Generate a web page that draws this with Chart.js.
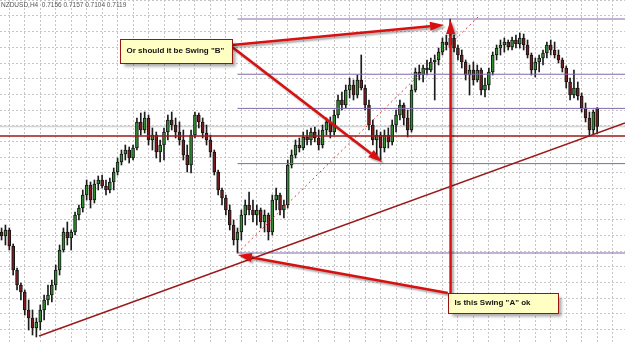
<!DOCTYPE html>
<html>
<head>
<meta charset="utf-8">
<script src="https://cdn.jsdelivr.net/npm/chart.js@4.4.1/dist/chart.umd.min.js"></script>
<style>
  html, body { margin: 0; padding: 0; background: #ffffff; }
  #chart { display: block; }
</style>
</head>
<body>
<canvas id="chart" width="625" height="342"></canvas>
<script>
let symbol = "NZDUSD,H4";

// H4 candles, oldest first
let opens = [
  0.6908,0.6900,0.6912,0.6880,0.6832,0.6802,0.6788,0.6752,0.6736,0.6716,
  0.6728,0.6752,0.6772,0.6782,0.6802,0.6832,0.6872,0.6908,0.6896,0.6908,
  0.6942,0.6956,0.6982,0.7002,0.6972,0.7004,0.7012,0.7000,0.6992,0.7008,
  0.7028,0.7048,0.7064,0.7072,0.7056,0.7076,0.7128,0.7112,0.7136,0.7092,
  0.7102,0.7068,0.7082,0.7108,0.7132,0.7122,0.7108,0.7092,0.7062,0.7042,
  0.7102,0.7142,0.7128,0.7106,0.7092,0.7068,0.7028,0.6992,0.6976,0.6952,
  0.6922,0.6892,0.6908,0.6942,0.6962,0.6952,0.6942,0.6952,0.6928,0.6942,
  0.6908,0.6972,0.6982,0.6952,0.6962,0.7042,0.7062,0.7082,0.7076,0.7098,
  0.7092,0.7108,0.7096,0.7082,0.7112,0.7128,0.7108,0.7142,0.7172,0.7162,
  0.7192,0.7202,0.7182,0.7212,0.7196,0.7162,0.7122,0.7092,0.7102,0.7076,
  0.7102,0.7088,0.7122,0.7142,0.7162,0.7136,0.7112,0.7192,0.7228,0.7222,
  0.7236,0.7232,0.7248,0.7252,0.7268,0.7288,0.7282,0.7296,0.7276,0.7262,
  0.7248,0.7222,0.7232,0.7212,0.7232,0.7192,0.7202,0.7228,0.7262,0.7276,
  0.7282,0.7288,0.7278,0.7292,0.7284,0.7296,0.7282,0.7262,0.7232,0.7248,
  0.7256,0.7266,0.7282,0.7272,0.7262,0.7252,0.7236,0.7208,0.7182,0.7196,
  0.7180,0.7156,0.7136,0.7112,0.7156
];
let highs = [
  0.6916,0.6922,0.6916,0.6884,0.6836,0.6806,0.6792,0.6772,0.6752,0.6736,
  0.6762,0.6782,0.6802,0.6812,0.6842,0.6882,0.6916,0.6928,0.6912,0.6948,
  0.6962,0.6992,0.7012,0.7008,0.7012,0.7020,0.7022,0.7012,0.7016,0.7036,
  0.7056,0.7072,0.7082,0.7078,0.7082,0.7136,0.7146,0.7148,0.7142,0.7116,
  0.7108,0.7092,0.7116,0.7142,0.7148,0.7136,0.7128,0.7112,0.7082,0.7112,
  0.7148,0.7146,0.7136,0.7122,0.7102,0.7072,0.7032,0.6996,0.6982,0.6962,
  0.6932,0.6916,0.6952,0.6972,0.6988,0.6972,0.6962,0.6956,0.6952,0.6946,
  0.6982,0.6996,0.6986,0.6972,0.7052,0.7072,0.7092,0.7096,0.7108,0.7112,
  0.7116,0.7118,0.7112,0.7122,0.7136,0.7138,0.7152,0.7182,0.7188,0.7202,
  0.7216,0.7212,0.7222,0.7262,0.7202,0.7172,0.7132,0.7112,0.7108,0.7112,
  0.7116,0.7132,0.7152,0.7172,0.7166,0.7152,0.7202,0.7236,0.7242,0.7242,
  0.7252,0.7256,0.7262,0.7276,0.7296,0.7302,0.7334,0.7302,0.7282,0.7272,
  0.7252,0.7242,0.7248,0.7242,0.7236,0.7216,0.7236,0.7268,0.7282,0.7292,
  0.7296,0.7292,0.7298,0.7302,0.7306,0.7304,0.7292,0.7266,0.7256,0.7262,
  0.7272,0.7288,0.7292,0.7288,0.7272,0.7256,0.7240,0.7216,0.7232,0.7208,
  0.7186,0.7166,0.7148,0.7152,0.7157
];
let lows = [
  0.6892,0.6882,0.6872,0.6822,0.6792,0.6772,0.6742,0.6712,0.6702,0.6698,
  0.6712,0.6732,0.6762,0.6768,0.6792,0.6822,0.6868,0.6882,0.6872,0.6902,
  0.6932,0.6948,0.6972,0.6956,0.6966,0.6992,0.6996,0.6982,0.6986,0.6992,
  0.7022,0.7042,0.7052,0.7046,0.7052,0.7072,0.7102,0.7106,0.7082,0.7072,
  0.7056,0.7048,0.7052,0.7092,0.7112,0.7096,0.7082,0.7052,0.7028,0.7026,
  0.7096,0.7116,0.7096,0.7082,0.7058,0.7022,0.6982,0.6962,0.6942,0.6912,
  0.6882,0.6866,0.6892,0.6922,0.6942,0.6928,0.6922,0.6916,0.6908,0.6892,
  0.6902,0.6952,0.6942,0.6936,0.6956,0.7036,0.7056,0.7068,0.7072,0.7082,
  0.7082,0.7088,0.7072,0.7076,0.7102,0.7096,0.7102,0.7136,0.7152,0.7156,
  0.7176,0.7172,0.7176,0.7192,0.7152,0.7112,0.7082,0.7062,0.7052,0.7068,
  0.7076,0.7082,0.7108,0.7132,0.7122,0.7098,0.7108,0.7188,0.7212,0.7208,
  0.7222,0.7228,0.7172,0.7242,0.7262,0.7272,0.7276,0.7268,0.7252,0.7236,
  0.7212,0.7182,0.7202,0.7208,0.7182,0.7178,0.7192,0.7222,0.7252,0.7262,
  0.7268,0.7272,0.7272,0.7276,0.7276,0.7272,0.7256,0.7222,0.7218,0.7228,
  0.7242,0.7256,0.7262,0.7256,0.7246,0.7228,0.7196,0.7172,0.7176,0.7172,
  0.7148,0.7128,0.7100,0.7104,0.7104
];
let closes = [
  0.6900,0.6912,0.6880,0.6832,0.6802,0.6788,0.6752,0.6736,0.6716,0.6728,
  0.6752,0.6772,0.6782,0.6802,0.6832,0.6872,0.6908,0.6896,0.6908,0.6942,
  0.6956,0.6982,0.7002,0.6972,0.7004,0.7012,0.7000,0.6992,0.7008,0.7028,
  0.7048,0.7064,0.7072,0.7056,0.7076,0.7128,0.7112,0.7136,0.7092,0.7102,
  0.7068,0.7082,0.7108,0.7132,0.7122,0.7108,0.7092,0.7062,0.7042,0.7102,
  0.7142,0.7128,0.7106,0.7092,0.7068,0.7028,0.6992,0.6976,0.6952,0.6922,
  0.6892,0.6908,0.6942,0.6962,0.6952,0.6942,0.6952,0.6928,0.6942,0.6908,
  0.6972,0.6982,0.6952,0.6962,0.7042,0.7062,0.7082,0.7076,0.7098,0.7092,
  0.7108,0.7096,0.7082,0.7112,0.7128,0.7108,0.7142,0.7172,0.7162,0.7192,
  0.7202,0.7182,0.7212,0.7196,0.7162,0.7122,0.7092,0.7102,0.7076,0.7102,
  0.7088,0.7122,0.7142,0.7162,0.7136,0.7112,0.7192,0.7228,0.7222,0.7236,
  0.7232,0.7248,0.7252,0.7268,0.7288,0.7282,0.7296,0.7276,0.7262,0.7248,
  0.7222,0.7232,0.7212,0.7232,0.7192,0.7202,0.7228,0.7262,0.7276,0.7282,
  0.7288,0.7278,0.7292,0.7284,0.7296,0.7282,0.7262,0.7232,0.7248,0.7256,
  0.7266,0.7282,0.7272,0.7262,0.7252,0.7236,0.7208,0.7182,0.7196,0.7180,
  0.7156,0.7136,0.7112,0.7148,0.7119
];

// drawn objects
let swingLowIdx = 61;
let swingHighIdx = 116;
let fibRatios = [0, 0.236, 0.382, 0.618, 1];
let roundLevel = 0.7100;
let trendAnchors = [9, 152];              // candle lows the trend line runs through
let dottedLine = [{x: 61, y: 0.6866}, {x: 123.2, y: 0.7338}];

let notes = [
  {text: 'Or should it be Swing "B"', x0: 30.6, x1: 59.5, top: 0.7294, bottom: 0.7246},
  {text: 'Is this Swing "A" ok', x0: 115.4, x1: 143.9, top: 0.6786, bottom: 0.6746}
];
let arrows = [
  {from: {x: 59.6, y: 0.7282}, to: {x: 114.4, y: 0.7322}},
  {from: {x: 59.6, y: 0.7278}, to: {x: 98.4, y: 0.7048}},
  {from: {x: 115.4, y: 0.6786}, to: {x: 61.1, y: 0.6862}},
  {from: {x: 116.1, y: 0.6786}, to: {x: 116.1, y: 0.7332}}
];

// view window
let xMin = -0.406, xMax = 161.2;
let yMin = 0.6688, yMax = 0.7372;

let idx = opens.map((v, i) => i);
let last = closes.length - 1;

let swingHigh = highs[swingHighIdx];
let swingLow = lows[swingLowIdx];

function hLine(y, x0, x1, color, width, dash, order) {
    return {
        type: 'line',
        data: [{x: x0, y: y}, {x: x1, y: y}],
        borderColor: color,
        borderWidth: width,
        borderDash: dash || [],
        pointRadius: 0,
        fill: false,
        order: order
    };
}

let datasets = [];

// bid line behind the candles
datasets.push(hLine(closes[last], xMin, xMax, '#d4d4d4', 1.5, null, 10));

datasets.push({
    type: 'bar',
    data: idx.map(i => ({x: i, y: [lows[i], highs[i]]})),
    backgroundColor: '#1c1c1c',
    barThickness: 1,
    grouped: false,
    order: 6
});
datasets.push({
    type: 'bar',
    data: idx.map(i => ({x: i, y: [opens[i], closes[i]]})),
    backgroundColor: ctx => closes[ctx.dataIndex] >= opens[ctx.dataIndex] ? '#2f8f2f' : '#7a1c1c',
    borderColor: '#151515',
    borderWidth: 1,
    borderSkipped: false,
    barThickness: 3,
    grouped: false,
    order: 5
});

fibRatios.forEach(r => {
    let lvl = swingHigh - r * (swingHigh - swingLow);
    datasets.push(hLine(lvl, swingLowIdx, xMax, '#8068aa', 1, null, 3));
});

datasets.push(hLine(roundLevel, xMin, xMax, '#9a1a1a', 1.5, null, 2));

let a0 = trendAnchors[0], a1 = trendAnchors[1];
let slope = (lows[a1] - lows[a0]) / (a1 - a0);
datasets.push({
    type: 'line',
    data: [{x: a0 + 0.7, y: lows[a0] + slope * 0.7}, {x: xMax, y: lows[a0] + slope * (xMax - a0)}],
    borderColor: '#9a1a1a',
    borderWidth: 1.5,
    pointRadius: 0,
    fill: false,
    order: 2
});

datasets.push({
    type: 'line',
    data: dottedLine,
    borderColor: '#dd3a3a',
    borderWidth: 1,
    borderDash: [2, 3],
    pointRadius: 0,
    fill: false,
    order: 2
});

function drawArrow(ctx, x1, y1, x2, y2) {
    let ang = Math.atan2(y2 - y1, x2 - x1);
    let head = 14, half = 4.5;
    let bx = x2 - head * Math.cos(ang), by = y2 - head * Math.sin(ang);
    ctx.beginPath();
    ctx.moveTo(x1, y1);
    ctx.lineTo(bx, by);
    ctx.stroke();
    ctx.beginPath();
    ctx.moveTo(x2, y2);
    ctx.lineTo(bx + half * Math.sin(ang), by - half * Math.cos(ang));
    ctx.lineTo(bx - half * Math.sin(ang), by + half * Math.cos(ang));
    ctx.closePath();
    ctx.fill();
}

let overlay = {
    id: 'overlay',
    afterDatasetsDraw(chart) {
        let ctx = chart.ctx;
        let sx = chart.scales.x, sy = chart.scales.y;
        ctx.save();

        // header
        ctx.font = '6.5px "Liberation Sans"';
        ctx.fillStyle = '#555';
        ctx.textBaseline = 'alphabetic';
        let f = v => v.toFixed(4);
        ctx.fillText(symbol + '  ' + f(opens[last]) + ' ' + f(highs[last]) + ' ' + f(lows[last]) + ' ' + f(closes[last]), 1, 7);

        // arrows
        ctx.strokeStyle = '#d81010';
        ctx.fillStyle = '#d81010';
        ctx.lineWidth = 2.5;
        ctx.shadowColor = 'rgba(0,0,0,0.35)';
        ctx.shadowBlur = 2;
        ctx.shadowOffsetX = 2;
        ctx.shadowOffsetY = 2;
        arrows.forEach(a => {
            drawArrow(ctx,
                sx.getPixelForValue(a.from.x), sy.getPixelForValue(a.from.y),
                sx.getPixelForValue(a.to.x), sy.getPixelForValue(a.to.y));
        });

        // note boxes
        notes.forEach(n => {
            let l = Math.round(sx.getPixelForValue(n.x0)) + 0.5;
            let r = Math.round(sx.getPixelForValue(n.x1)) + 0.5;
            let t = Math.round(sy.getPixelForValue(n.top)) + 0.5;
            let b = Math.round(sy.getPixelForValue(n.bottom)) + 0.5;
            ctx.shadowColor = 'rgba(0,0,0,0.35)';
            ctx.shadowBlur = 3;
            ctx.shadowOffsetX = 3;
            ctx.shadowOffsetY = 3;
            ctx.fillStyle = '#ffffc4';
            ctx.fillRect(l, t, r - l, b - t);
            ctx.shadowColor = 'transparent';
            ctx.strokeStyle = '#9a1212';
            ctx.lineWidth = 1;
            ctx.strokeRect(l, t, r - l, b - t);
            ctx.fillStyle = '#141414';
            ctx.font = 'bold 8px "Liberation Sans"';
            ctx.textBaseline = 'middle';
            ctx.fillText(n.text, l + 6, (t + b) / 2 - 1);
        });
        ctx.restore();
    }
};

function gridTicks(start, step, lo, hi) {
    let out = [];
    let v = start;
    while (v - step > lo) v -= step;
    for (; v <= hi; v += step) out.push({value: v});
    return out;
}

new Chart(document.getElementById('chart'), {
    type: 'bar',
    data: {datasets: datasets},
    options: {
        responsive: false,
        animation: false,
        layout: {padding: 0, autoPadding: false},
        plugins: {legend: {display: false}, tooltip: {enabled: false}},
        scales: {
            x: {
                type: 'linear',
                offset: false,
                min: xMin,
                max: xMax,
                afterBuildTicks: s => { s.ticks = gridTicks(2, 4, xMin, xMax); },
                ticks: {display: false},
                grid: {color: '#c6c6c6', drawTicks: false, offset: false},
                border: {display: false, dash: [2, 2]}
            },
            y: {
                type: 'linear',
                min: yMin,
                max: yMax,
                afterBuildTicks: s => { s.ticks = gridTicks(0.7340, 0.003134, yMin, yMax); },
                ticks: {display: false},
                grid: {color: '#c6c6c6', drawTicks: false},
                border: {display: false, dash: [2, 2]}
            }
        }
    },
    plugins: [overlay]
});
</script>
</body>
</html>
